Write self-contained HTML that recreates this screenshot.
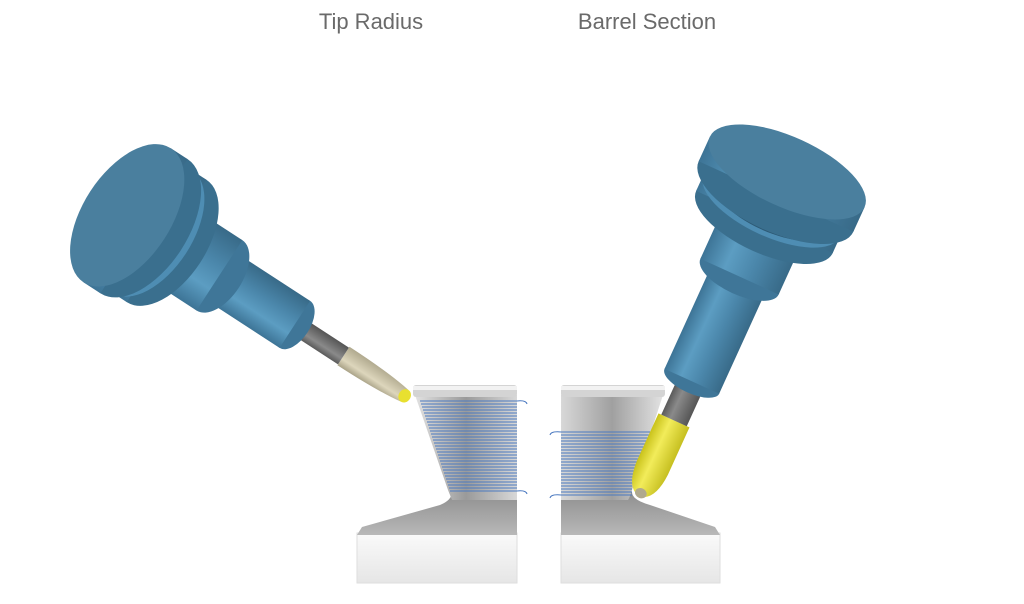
<!DOCTYPE html>
<html><head><meta charset="utf-8"><style>
html,body{margin:0;padding:0;background:#fff;}
body{width:1024px;height:599px;overflow:hidden;}
</style></head><body>
<svg width="1024" height="599" viewBox="0 0 1024 599" xmlns="http://www.w3.org/2000/svg">
<defs>
<linearGradient id="bl" x1="0" y1="0" x2="0" y2="1">
<stop offset="0" stop-color="#3d7496"/><stop offset="0.3" stop-color="#5c9dc2"/><stop offset="0.6" stop-color="#4b87ab"/><stop offset="1" stop-color="#386a88"/></linearGradient>
<linearGradient id="gr" x1="0" y1="0" x2="0" y2="1">
<stop offset="0" stop-color="#5a5a5a"/><stop offset="0.35" stop-color="#8a8a8a"/><stop offset="1" stop-color="#555"/></linearGradient>
<linearGradient id="bg" x1="0" y1="0" x2="0" y2="1">
<stop offset="0" stop-color="#a9a287"/><stop offset="0.35" stop-color="#ddd6bc"/><stop offset="1" stop-color="#b0a98e"/></linearGradient>
<linearGradient id="ye" x1="0" y1="0" x2="0" y2="1">
<stop offset="0" stop-color="#c9c21a"/><stop offset="0.4" stop-color="#f2ec5a"/><stop offset="1" stop-color="#c6bf20"/></linearGradient>
<linearGradient id="wk" x1="0" y1="0" x2="1" y2="0">
<stop offset="0" stop-color="#e2e2e2"/><stop offset="0.5" stop-color="#9a9a9a"/><stop offset="1" stop-color="#d8d8d8"/></linearGradient>
<linearGradient id="wk2" x1="0" y1="0" x2="1" y2="0">
<stop offset="0" stop-color="#d8d8d8"/><stop offset="0.5" stop-color="#a0a0a0"/><stop offset="1" stop-color="#e2e2e2"/></linearGradient>
<linearGradient id="base" x1="0" y1="0" x2="0" y2="1">
<stop offset="0" stop-color="#fafafa"/><stop offset="1" stop-color="#e6e6e6"/></linearGradient>
<linearGradient id="slope" x1="0" y1="0" x2="0" y2="1">
<stop offset="0" stop-color="#8f8f8f"/><stop offset="1" stop-color="#b8b8b8"/></linearGradient>
</defs>

<text x="371" y="29" font-family="Liberation Sans, sans-serif" font-size="22" fill="#6a6a6a" text-anchor="middle">Tip Radius</text>
<text x="647" y="29" font-family="Liberation Sans, sans-serif" font-size="22" fill="#6a6a6a" text-anchor="middle">Barrel Section</text>

<!-- Left workpiece -->
<rect x="357" y="533" width="160" height="50" fill="url(#base)" stroke="#dedede" stroke-width="1"/>
<path d="M357,535 L362,527 L440,505 Q452,500 452,492 L452,492 L517,492 L517,535 Z" fill="url(#slope)"/>
<path d="M415,395 L517,395 L517,500 L452,500 Q450,495 448,490 Z" fill="url(#wk)"/>
<rect x="413" y="385" width="104" height="12" rx="3" fill="#d4d4d4"/>
<rect x="413" y="386" width="104" height="4" fill="#f2f2f2"/>
<g stroke="#4a79c0" stroke-width="1">
<path d="M420,401H517M421,404H517M422,407H517M423,410H517M424,413H517M425,416H517M426,419H517M427,422H517M428,425H517M429,428H517M430,431H517M431,434H517M432,437H517M433,440H517M434,443H517M435,446H517M436,449H517M437,452H517M438,455H517M439,458H517M440,461H517M441,464H517M442,467H517M443,470H517M444,473H517M445,476H517M446,479H517M447,482H517M448,485H517M449,488H517M450,491H517"/>
<path d="M517,401 Q526,400 527,404 M517,491 Q526,490 527,494" fill="none"/>
</g>

<!-- Right workpiece -->
<rect x="561" y="533" width="159" height="50" fill="url(#base)" stroke="#dedede" stroke-width="1"/>
<path d="M720,535 L715,527 L650,505 Q632,500 632,492 L561,492 L561,535 Z" fill="url(#slope)"/>
<path d="M561,395 L663,395 L632,490 Q630,497 628,500 L561,500 Z" fill="url(#wk2)"/>
<rect x="561" y="385" width="104" height="12" rx="3" fill="#d4d4d4"/>
<rect x="561" y="386" width="104" height="4" fill="#f2f2f2"/>
<g stroke="#4a79c0" stroke-width="1">
<path d="M561,432H650M561,435H649M561,438H648M561,441H647M561,444H646M561,447H645M561,450H644M561,453H643M561,456H642M561,459H641M561,462H640M561,465H639M561,468H638M561,471H637M561,474H636M561,477H635M561,480H634M561,483H633M561,486H632M561,489H632M561,492H632M561,495H632"/>
<path d="M561,432 Q551,431 550,435 M561,495 Q551,494 550,498" fill="none"/>
</g>

<!-- Left tool -->
<g transform="translate(408,398) rotate(213.05)">
<path d="M4,-7 Q30,-11 77,-11 L77,11 Q30,11 4,7 Z" fill="url(#bg)"/>
<ellipse cx="4" cy="0" rx="6" ry="7" fill="#e8e030"/>
<rect x="77" y="-10" width="60" height="20" fill="url(#gr)"/>
<ellipse cx="135" cy="0" rx="15" ry="28" fill="#3f7698"/>
<rect x="135" y="-28" width="90" height="56" fill="url(#bl)"/>
<ellipse cx="225" cy="0" rx="23" ry="42" fill="#3f7698"/>
<rect x="225" y="-42" width="63" height="84" fill="url(#bl)"/>
<ellipse cx="288" cy="0" rx="40" ry="73" fill="#3a6f8e"/>
<rect x="288" y="-73" width="17" height="146" fill="url(#bl)"/>
<ellipse cx="305" cy="0" rx="40" ry="73" fill="#4e8db3"/>
<ellipse cx="305" cy="0" rx="33" ry="62" fill="#2d5a75"/>
<ellipse cx="315" cy="0" rx="44" ry="80" fill="#3a6f8e"/>
<rect x="315" y="-80" width="20" height="160" fill="url(#bl)"/>
<ellipse cx="335" cy="0" rx="44" ry="80" fill="#4a7f9e"/>
</g>

<!-- Right tool -->
<g transform="translate(640,495) rotate(-65.5)">
<path d="M0,-5 Q6,-16 30,-17 L82,-17 L82,17 L30,17 Q6,16 0,5 Z" fill="url(#ye)"/>
<ellipse cx="2" cy="0" rx="5" ry="6" fill="#b0a98e"/>
<rect x="82" y="-14" width="45" height="28" fill="url(#gr)"/>
<ellipse cx="125" cy="0" rx="12" ry="30" fill="#3f7698"/>
<rect x="125" y="-30" width="115" height="60" fill="url(#bl)"/>
<ellipse cx="240" cy="0" rx="18" ry="43" fill="#3f7698"/>
<rect x="240" y="-43" width="60" height="86" fill="url(#bl)"/>
<ellipse cx="300" cy="0" rx="31" ry="75" fill="#3a6f8e"/>
<rect x="300" y="-75" width="18" height="150" fill="url(#bl)"/>
<ellipse cx="318" cy="0" rx="31" ry="75" fill="#4e8db3"/>
<ellipse cx="318" cy="0" rx="26" ry="63" fill="#2d5a75"/>
<ellipse cx="328" cy="0" rx="35" ry="85" fill="#3a6f8e"/>
<rect x="328" y="-85" width="27" height="170" fill="url(#bl)"/>
<ellipse cx="355" cy="0" rx="35" ry="85" fill="#4a7f9e"/>
</g>
</svg>
</body></html>
